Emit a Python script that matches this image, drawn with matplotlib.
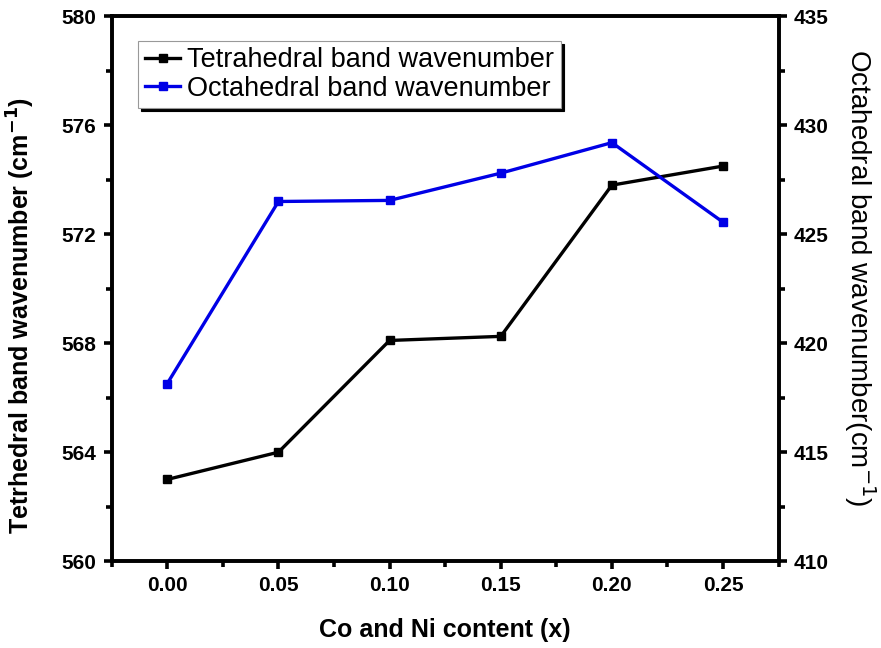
import matplotlib.pyplot as plt

plt.rcParams['font.family'] = ['Liberation Sans', 'DejaVu Sans']

# Data
content = [0.00, 0.05, 0.10, 0.15, 0.20, 0.25]
tetra = [563.0, 564.0, 568.1, 568.25, 573.8, 574.5]
octa = [418.15, 426.5, 426.55, 427.8, 429.2, 425.55]

x_ticks = [0.00, 0.05, 0.10, 0.15, 0.20, 0.25]
left_ticks = [560, 564, 568, 572, 576, 580]
right_ticks = [410, 415, 420, 425, 430, 435]

fig = plt.figure(figsize=(8.81, 6.48), dpi=100)
ax = fig.add_axes([0.1268, 0.134, 0.757, 0.841])
ax2 = ax.twinx()

l1, = ax.plot(content, tetra, color='black', lw=2.4, marker='s', ms=6,
              label='Tetrahedral band wavenumber')
l2, = ax2.plot(content, octa, color='#0000E6', lw=2.4, marker='s', ms=6,
               label='Octahedral band wavenumber')

ax.set_xlim(-0.025, 0.275)
ax.set_ylim(560, 580)
ax2.set_ylim(410, 435)

ax.set_xticks(x_ticks)
ax.set_xticklabels([f'{v:.2f}' for v in x_ticks])
ax.set_xticks([v + 0.025 for v in [-0.05] + x_ticks if -0.025 <= v + 0.025 <= 0.275], minor=True)
ax.set_yticks(left_ticks)
ax.set_yticks([v + 2 for v in left_ticks[:-1]], minor=True)
ax2.set_yticks(right_ticks)
ax2.set_yticks([v + 2.5 for v in right_ticks[:-1]], minor=True)

for a in (ax, ax2):
    for s in a.spines.values():
        s.set_linewidth(2.6)
    a.tick_params(which='major', direction='out', length=6, width=2.6,
                  labelsize=15, pad=5)
    a.tick_params(which='minor', direction='out', length=4.5, width=2.6)
    for lab in a.get_xticklabels() + a.get_yticklabels():
        lab.set_fontweight('bold')

ax.set_xlabel('Co and Ni content (x)', fontsize=18, fontweight='bold', labelpad=16)
ax.set_ylabel('Tetrhedral band wavenumber (cm$^{\\mathbf{-1}}$)', fontsize=18,
              fontweight='bold')
ax.yaxis.set_label_coords(-0.112, 0.45)
ax2.set_ylabel('Octahedral band wavenumber(cm$^{-1}$)', fontsize=20,
               rotation=270, va='center')
ax2.yaxis.set_label_coords(1.122, 0.52)

leg = ax.legend(handles=[l1, l2], loc='upper left', bbox_to_anchor=(0.04, 0.955),
                fontsize=19.5, frameon=True, fancybox=False, handlelength=1.3,
                handletextpad=0.25, borderpad=0.25, labelspacing=0.08,
                borderaxespad=0,
                shadow={'color': 'black', 'alpha': 1})
leg.get_frame().set_edgecolor('#999999')
leg.get_frame().set_linewidth(0.8)

fig.savefig('out.png', dpi=100)
